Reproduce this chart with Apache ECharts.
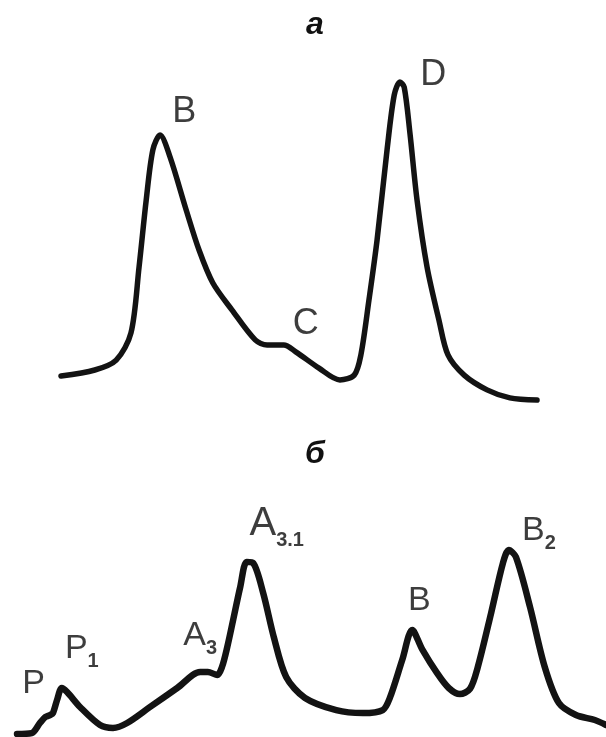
<!DOCTYPE html>
<html>
<head>
<meta charset="utf-8">
<script src="https://cdn.jsdelivr.net/npm/echarts@6/dist/echarts.min.js"></script>
<style>html,body{margin:0;padding:0;background:#fff}#c{width:606px;height:737px}</style>
</head>
<body>
<div id="c"></div>
<script>
// Panel а (top): relative units, x 0..100, intensity 0..100
var topX = [0, 7.1, 11.6, 14.7, 16.4, 17.9, 19.3, 20.8, 22.9, 26.3, 29, 31.9, 35.9, 40.8, 43.3, 46.8, 49.4, 54.2, 58.6, 61.6, 63, 64.7, 66.4, 68.5, 70, 71.2, 72.1, 73.3, 74.8, 76.9, 79.4, 81.3, 84.7, 89.5, 94.3, 100];
var topY = [8.1, 10, 13.1, 21.6, 42.2, 63.1, 78.8, 83.4, 76.6, 60, 47.5, 37.2, 28.8, 19.4, 17.8, 17.8, 15.6, 10.6, 6.9, 8.4, 14.7, 31.9, 50.6, 78.8, 95.9, 100, 98.4, 84.1, 63.1, 42.2, 25.6, 14.7, 8.4, 3.8, 1.3, 0.6];
var topLabelText = ['B', 'C', 'D'];
var topLabelX = [25.9, 51.4, 78.2];
var topLabelY = [90.5, 24.5, 102.2];

// Panel б (bottom)
var botX = [0, 2.5, 3.9, 4.8, 5.6, 6.1, 6.8, 7.6, 8.5, 10.7, 14.1, 16.3, 18.7, 22.6, 27.2, 31.1, 32.4, 34, 34.8, 35.7, 36.7, 37.9, 39, 40.1, 41.8, 43.6, 45.7, 48.9, 54.2, 58.7, 62.1, 63.3, 65.4, 67.1, 68.8, 71.3, 73.3, 75.2, 76.9, 78.2, 80.5, 82.5, 83.5, 84.7, 87.1, 89.6, 92, 94.9, 98.1, 100];
var botY = [0, 0.5, 6, 9.2, 10.3, 11.4, 18.5, 25, 22.8, 14.7, 4.9, 3.3, 6, 14.7, 25, 33.7, 33.7, 32.1, 36.4, 47.3, 62, 79.9, 93.5, 92.9, 76.6, 52.7, 31, 19.6, 13, 11.4, 13, 19.6, 40.2, 56.5, 46, 33.2, 25, 21.7, 24.5, 36, 65.8, 92.9, 100, 96.2, 69, 36.4, 16.8, 10.3, 7.6, 4.9];
var botLabelMain = ['P', 'P', 'A', 'A', 'B', 'B'];
var botLabelSub = ['', '1', '3', '3.1', '', '2'];
var botLabelX = [2.8, 11.0, 31.1, 44.1, 68.3, 88.6];
var botLabelY = [25.5, 45, 51.7, 112.5, 70.7, 109];

var panelTitles = ['а', 'б'];

function zip(a, b) { return a.map(function (v, i) { return [v, b[i]]; }); }

var lineColor = '#131313';
var textColor = '#0c0c0c';

var chart = echarts.init(document.getElementById('c'), null, {renderer: 'canvas'});
chart.setOption({
  backgroundColor: '#ffffff',
  animation: false,
  title: [
    {text: panelTitles[0], left: 310, top: 4, textAlign: 'center',
     textStyle: {fontFamily: 'Liberation Sans', fontSize: 32, fontWeight: 'bold', fontStyle: 'italic', color: '#111'}},
    {text: panelTitles[1], left: 310, top: 433, textAlign: 'center',
     textStyle: {fontFamily: 'Liberation Sans', fontSize: 32, fontWeight: 'bold', fontStyle: 'italic', color: '#111'}}
  ],
  grid: [
    {left: 61, width: 476, top: 82, height: 320},
    {left: 17, width: 589, top: 550, height: 184}
  ],
  xAxis: [
    {type: 'value', gridIndex: 0, min: 0, max: 100, show: false},
    {type: 'value', gridIndex: 1, min: 0, max: 100, show: false}
  ],
  yAxis: [
    {type: 'value', gridIndex: 0, min: 0, max: 100, show: false},
    {type: 'value', gridIndex: 1, min: 0, max: 100, show: false}
  ],
  series: [
    {type: 'line', xAxisIndex: 0, yAxisIndex: 0, data: zip(topX, topY), showSymbol: false, smooth: 0.3, clip: false,
     lineStyle: {width: 5.5, color: lineColor, cap: 'round', join: 'round'}},
    {type: 'line', xAxisIndex: 1, yAxisIndex: 1, data: zip(botX, botY), showSymbol: false, smooth: 0.3, clip: false,
     lineStyle: {width: 6.5, color: lineColor, cap: 'round', join: 'round'}},
    {type: 'scatter', xAxisIndex: 0, yAxisIndex: 0, symbolSize: 0, clip: false,
     data: topLabelX.map(function (x, i) { return {value: [x, topLabelY[i]], name: topLabelText[i]}; }),
     label: {show: true, position: 'inside', formatter: '{b}', fontFamily: 'Liberation Sans', fontSize: 36,
       color: textColor, textBorderWidth: 0}},
    {type: 'scatter', xAxisIndex: 1, yAxisIndex: 1, symbolSize: 0, clip: false,
     data: botLabelX.map(function (x, i) { return {value: [x, botLabelY[i]], name: String(i)}; }),
     label: {show: true, position: 'inside', color: textColor, textBorderWidth: 0,
       formatter: function (p) {
         var i = p.dataIndex;
         var big = botLabelSub[i] === '3.1' ? 'mb' : 'm';
         return '{' + big + '|' + botLabelMain[i] + '}' + (botLabelSub[i] ? '{s|' + botLabelSub[i] + '}' : '');
       },
       rich: {
         m: {fontFamily: 'Liberation Sans', fontSize: 34, lineHeight: 40, color: textColor, textBorderWidth: 0, verticalAlign: 'top'},
         mb: {fontFamily: 'Liberation Sans', fontSize: 40, lineHeight: 46, color: textColor, textBorderWidth: 0, verticalAlign: 'top'},
         s: {fontFamily: 'Liberation Sans', fontSize: 20, fontWeight: 'bold', lineHeight: 4, color: textColor, textBorderWidth: 0, verticalAlign: 'bottom'}
       }}}
  ]
});
</script>
</body>
</html>
